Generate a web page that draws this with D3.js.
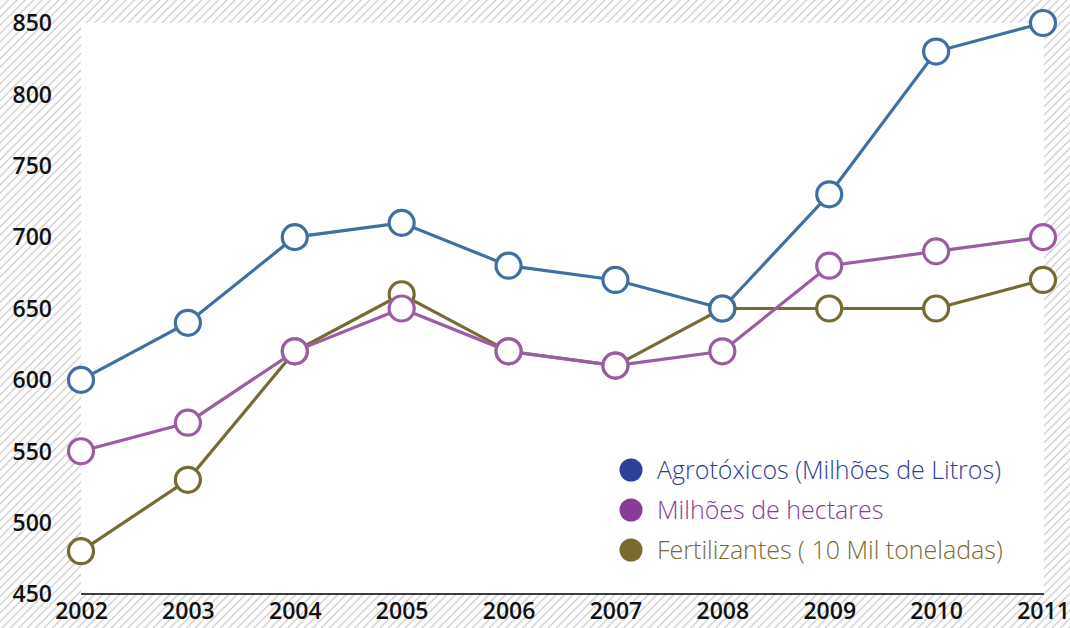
<!DOCTYPE html>
<html><head><meta charset="utf-8">
<script src="https://cdn.jsdelivr.net/npm/d3@7"></script>
<style>body{margin:0;background:#fff}svg{display:block}</style>
</head><body>
<script>
const years = ["2002","2003","2004","2005","2006","2007","2008","2009","2010","2011"];
const agrotoxicos = [600,640,700,710,680,670,650,730,830,850];
const hectares = [550,570,620,650,620,610,620,680,690,700];
const fertilizantes = [480,530,620,660,620,610,650,650,650,670];
const yTicks = [450,500,550,600,650,700,750,800,850];
const seriesNames = ["Agrotóxicos (Milhões de Litros)","Milhões de hectares","Fertilizantes ( 10 Mil toneladas)"];

const W=1070,H=628;
const svg=d3.select("body").append("svg").attr("width",W).attr("height",H);
const defs=svg.append("defs");
const P=8.4;
const pat=defs.append("pattern").attr("id","hatch").attr("patternUnits","userSpaceOnUse")
  .attr("width",P).attr("height",P);
pat.append("path").attr("d",`M-2,2 L2,-2 M0,${P} L${P},0 M${P-2},${P+2} L${P+2},${P-2}`)
  .attr("stroke","#bdbdbd").attr("stroke-width",1);
svg.append("rect").attr("width",W).attr("height",H).attr("fill","url(#hatch)");

const L=81,R=1044,T=23,B=594;
svg.append("rect").attr("x",L).attr("y",T).attr("width",R-L).attr("height",B-T).attr("fill","#fff");

const x=d3.scalePoint().domain(years).range([L,R-1]);
const y=d3.scaleLinear().domain([450,850]).range([B,T]);

const yAxis=svg.append("g").attr("transform",`translate(${L},0)`)
  .call(d3.axisLeft(y).tickValues(yTicks).tickSize(0).tickPadding(29).tickFormat(d3.format("d")));
yAxis.select(".domain").remove();
yAxis.selectAll("text").attr("font-family","'Open Sans',sans-serif").attr("font-weight",600)
  .attr("font-size",23).attr("fill","#111").attr("dy","0.34em");

const xAxis=svg.append("g").attr("transform",`translate(0,${B})`)
  .call(d3.axisBottom(x).tickSize(0).tickPadding(9));
xAxis.select(".domain").attr("stroke","#000").attr("stroke-width",1.3).attr("d",`M${L},0H${R}`);
xAxis.selectAll("text").attr("font-family","'Open Sans',sans-serif").attr("font-weight",600)
  .attr("font-size",23).attr("fill","#111");

const series=[
  {vals:fertilizantes,line:"#776a32"},
  {vals:hectares,line:"#9a5da1"},
  {vals:agrotoxicos,line:"#3f6fa3"}
];
const line=d3.line().x((d,i)=>x(years[i])).y(d=>y(d));
series.forEach(s=>{
  const g=svg.append("g");
  g.append("path").datum(s.vals).attr("d",line).attr("fill","none")
    .attr("stroke",s.line).attr("stroke-width",3.2);
  g.selectAll("circle").data(s.vals).join("circle")
    .attr("cx",(d,i)=>x(years[i])).attr("cy",d=>y(d)).attr("r",12.5)
    .attr("fill","#fff").attr("stroke",s.line).attr("stroke-width",3.2);
});

const legCols=["#2d3f97","#893c96","#796a31"];
const lg=svg.append("g");
seriesNames.forEach((n,i)=>{
  const cy=470+i*40;
  lg.append("circle").attr("cx",631).attr("cy",cy).attr("r",11.5).attr("fill",legCols[i]);
  lg.append("text").attr("x",657).attr("y",cy).attr("dy","0.35em")
    .attr("font-family","'Open Sans',sans-serif").attr("font-weight",300)
    .attr("font-size",25).attr("fill",legCols[i]).text(n);
});
</script>
</body></html>
